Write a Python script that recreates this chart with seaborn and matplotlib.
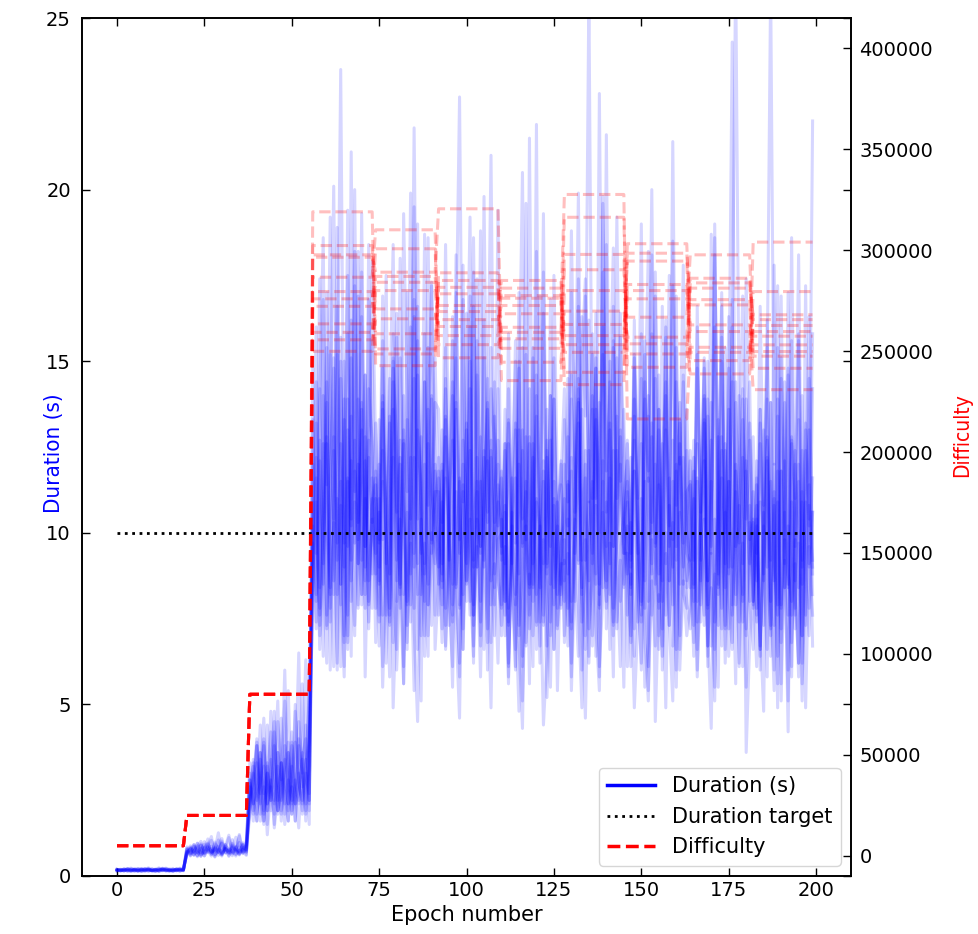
import numpy as np
import pandas as pd
import matplotlib
matplotlib.use('Agg')
import matplotlib.pyplot as plt
from matplotlib.lines import Line2D
import seaborn as sns

# Epoch layout: difficulty is retargeted after 20 epochs, then every 18
n_epochs = 200
seg_len = [20] + [18] * 10
duration_target = 10

# Difficulty level of each segment, one list per simulation run
diff_run00 = [5000, 20000, 80000, 319000, 242800, 281600, 256100, 297900, 248600, 286100, 257400]
diff_run01 = [5000, 20000, 80000, 302300, 270900, 257700, 281200, 239500, 303200, 259700, 230900]
diff_run02 = [5000, 20000, 80000, 297700, 289100, 320500, 244500, 269800, 256900, 281200, 268000]
diff_run03 = [5000, 20000, 80000, 296500, 258600, 265600, 272600, 327600, 216400, 251900, 259700]
diff_run04 = [5000, 20000, 80000, 286600, 310100, 246700, 261800, 249400, 283000, 245300, 304000]
diff_run05 = [5000, 20000, 80000, 279500, 251100, 285000, 235400, 280000, 266800, 297700, 249800]
diff_run06 = [5000, 20000, 80000, 275900, 284100, 272600, 285000, 253200, 298500, 272900, 241500]
diff_run07 = [5000, 20000, 80000, 272200, 300700, 253200, 259300, 316300, 242000, 283800, 265600]
diff_run08 = [5000, 20000, 80000, 263500, 248600, 288800, 276200, 233400, 280000, 263000, 253100]
diff_run09 = [5000, 20000, 80000, 259300, 287000, 269600, 251400, 290300, 253600, 238700, 279500]
diff_run10 = [5000, 20000, 80000, 255600, 266000, 278400, 277500, 257700, 294600, 249400, 262700]
diff_run11 = [5000, 20000, 80000, 249900, 280000, 262200, 268500, 263200, 275900, 275500, 247500]

# Epoch durations (s), one list per run
dur_run00 = [
    0.18, 0.15, 0.21, 0.17, 0.14, 0.19, 0.22, 0.16, 0.18, 0.13, 0.20, 0.17, 0.24, 0.15, 0.18, 0.19, 0.14, 0.21, 0.17, 0.16,
    0.72, 0.65, 0.88, 0.59, 0.77, 0.93, 0.68, 0.81, 0.55, 0.74, 1.02, 0.66, 0.79, 0.71, 0.62, 0.85, 0.97, 0.70,
    2.2, 3.0, 1.6, 3.6, 1.9, 2.6, 4.2, 1.4, 2.4, 3.3, 2.1, 2.8, 1.8, 4.8, 2.7, 2.2, 3.4, 1.5,
    13.3, 9.4, 17.4, 11.5, 7.6, 15.2, 10.4, 18.9, 8.5, 13.9, 6.6, 16.2, 12.1, 9.8, 19.3, 9.0, 14.2, 12.6,
    6.8, 10.6, 5.5, 8.8, 13.2, 4.9, 8.0, 12.0, 6.1, 9.6, 16.0, 7.2, 4.5, 10.0, 8.4, 6.4, 14.0, 7.6,
    11.6, 8.4, 15.4, 7.3, 10.8, 18.1, 9.1, 6.6, 13.0, 9.7, 7.9, 17.4, 9.6, 12.4, 6.0, 11.0, 14.4, 8.6,
    7.8, 12.6, 5.8, 10.2, 8.2, 15.0, 5.1, 9.4, 12.8, 7.0, 10.9, 6.2, 17.6, 8.8, 7.4, 11.5, 5.4, 9.7,
    10.3, 14.5, 8.0, 12.7, 19.9, 9.2, 12.0, 6.4, 15.8, 11.0, 13.8, 8.4, 21.6, 10.0, 7.3, 15.1, 11.4, 9.4,
    9.4, 6.1, 11.8, 7.4, 10.0, 15.6, 5.4, 8.6, 6.7, 13.6, 9.6, 4.9, 10.8, 7.9, 16.9, 6.6, 9.0, 11.2,
    11.4, 8.0, 16.6, 9.2, 13.2, 6.4, 10.4, 19.0, 8.5, 12.4, 7.3, 14.8, 9.7, 5.6, 14.0, 9.1, 17.4, 10.9,
    8.0, 12.1, 6.0, 10.3, 15.4, 7.0, 9.2, 13.4, 5.1, 9.8, 7.6, 18.6, 8.6, 11.5, 6.2, 10.6, 13.0, 8.2,
]
dur_run01 = [
    0.16, 0.19, 0.14, 0.22, 0.17, 0.15, 0.20, 0.18, 0.13, 0.21, 0.16, 0.19, 0.15, 0.23, 0.17, 0.14, 0.18, 0.20, 0.16, 0.19,
    0.81, 0.58, 0.74, 0.96, 0.63, 0.70, 0.87, 1.15, 0.61, 0.78, 0.69, 0.92, 0.57, 0.83, 0.75, 0.64, 0.89, 0.73,
    2.8, 1.8, 3.8, 2.1, 3.2, 1.2, 2.6, 4.5, 1.9, 3.3, 2.4, 1.6, 3.9, 2.7, 2.1, 5.6, 3.0, 2.2,
    8.8, 14.4, 10.6, 6.4, 17.0, 12.2, 8.2, 13.4, 23.5, 10.2, 7.0, 15.1, 11.2, 18.2, 9.2, 12.8, 7.9, 11.0,
    11.6, 7.6, 13.8, 9.0, 5.8, 10.9, 16.4, 8.2, 12.6, 6.8, 10.3, 14.5, 6.6, 9.4, 18.7, 10.6, 7.3, 12.0,
    9.8, 7.2, 13.3, 9.1, 5.5, 11.2, 7.9, 16.8, 8.5, 10.4, 6.2, 14.6, 8.0, 12.2, 8.8, 4.9, 11.0, 12.7,
    9.6, 13.6, 7.4, 11.6, 9.7, 17.0, 6.1, 10.9, 14.2, 8.4, 21.9, 6.7, 12.1, 9.0, 14.0, 10.0, 7.8, 11.4,
    7.0, 10.4, 5.4, 8.8, 13.2, 7.6, 4.6, 9.6, 11.5, 6.4, 8.4, 15.2, 7.2, 9.7, 5.8, 12.4, 8.0, 9.1,
    12.7, 9.0, 16.2, 10.8, 7.9, 14.4, 11.8, 20.0, 9.6, 13.6, 7.2, 11.2, 17.5, 9.8, 15.4, 8.5, 12.2, 10.3,
    8.4, 11.8, 6.6, 10.0, 15.0, 7.8, 9.4, 5.5, 12.8, 10.6, 7.2, 16.3, 9.0, 11.2, 6.1, 10.2, 13.9, 8.0,
    6.6, 10.2, 7.3, 4.8, 12.1, 8.2, 6.0, 13.9, 6.8, 9.2, 5.1, 10.9, 7.6, 15.8, 5.6, 8.8, 11.4, 6.7,
]
dur_run02 = [
    0.19, 0.17, 0.15, 0.20, 0.23, 0.16, 0.18, 0.14, 0.21, 0.19, 0.15, 0.17, 0.20, 0.16, 0.22, 0.18, 0.13, 0.19, 0.21, 0.17,
    0.66, 0.84, 0.71, 0.56, 0.90, 0.76, 1.08, 0.63, 0.79, 0.68, 0.95, 0.72, 0.60, 0.86, 0.77, 1.21, 0.67, 0.82,
    1.9, 2.7, 4.0, 2.2, 1.5, 3.2, 2.4, 1.8, 3.6, 2.8, 5.1, 2.1, 2.6, 1.6, 3.8, 3.0, 1.9, 3.3,
    14.8, 10.0, 7.8, 14.0, 11.4, 19.2, 8.6, 10.9, 15.7, 6.8, 13.0, 10.4, 18.2, 9.1, 12.4, 14.6, 8.0, 11.0,
    9.4, 13.3, 9.8, 17.5, 7.6, 12.2, 8.6, 15.1, 11.0, 6.6, 12.7, 19.5, 8.2, 11.6, 15.8, 7.9, 10.6, 13.8,
    13.6, 10.3, 18.4, 11.4, 8.5, 15.6, 22.7, 10.9, 13.2, 8.0, 16.6, 12.0, 9.4, 19.8, 10.6, 14.2, 12.6, 9.0,
    7.3, 10.8, 6.1, 9.6, 13.0, 6.8, 4.3, 10.2, 8.2, 15.4, 6.6, 9.0, 11.8, 7.8, 5.5, 11.0, 7.2, 9.1,
    9.1, 12.8, 7.2, 10.8, 16.6, 8.4, 12.4, 6.2, 10.0, 14.8, 7.9, 19.8, 9.6, 11.6, 7.4, 13.4, 10.3, 8.5,
    10.2, 6.8, 12.7, 8.8, 6.0, 11.5, 8.0, 15.8, 9.4, 6.6, 10.6, 14.0, 7.3, 9.2, 12.0, 7.0, 14.6, 8.4,
    12.1, 8.5, 15.2, 10.4, 7.3, 13.9, 9.6, 18.6, 10.9, 6.7, 12.6, 8.8, 16.0, 9.8, 6.2, 13.3, 11.0, 9.1,
    10.4, 7.8, 13.6, 8.6, 12.2, 6.4, 17.8, 9.4, 7.2, 14.4, 10.0, 5.8, 12.0, 8.4, 14.0, 7.6, 10.8, 9.0,
]
dur_run03 = [
    0.15, 0.18, 0.20, 0.16, 0.13, 0.19, 0.17, 0.22, 0.15, 0.18, 0.16, 0.21, 0.14, 0.19, 0.17, 0.15, 0.20, 0.16, 0.23, 0.18,
    0.77, 0.62, 0.91, 0.70, 0.58, 0.83, 0.74, 0.66, 0.99, 0.72, 0.61, 0.86, 0.78, 1.06, 0.64, 0.75, 0.69, 0.88,
    3.3, 2.1, 2.6, 4.4, 1.6, 3.0, 2.2, 3.8, 1.8, 2.7, 6.0, 1.9, 3.2, 2.4, 1.4, 3.4, 4.0, 2.1,
    10.8, 16.0, 8.4, 12.6, 7.3, 13.6, 20.1, 9.7, 15.0, 9.0, 11.6, 6.4, 17.2, 10.3, 13.0, 8.2, 16.8, 12.1,
    10.0, 7.4, 12.4, 6.2, 9.6, 15.1, 8.0, 10.4, 5.6, 13.3, 8.8, 11.4, 19.0, 7.0, 9.7, 8.5, 13.9, 6.6,
    8.6, 12.0, 6.7, 10.3, 14.4, 9.2, 5.8, 12.7, 10.6, 7.6, 17.6, 9.0, 11.5, 6.6, 9.8, 15.4, 7.9, 10.8,
    11.8, 8.0, 14.2, 9.4, 6.1, 13.0, 10.4, 19.6, 8.5, 12.2, 7.3, 9.7, 16.4, 9.1, 14.0, 6.6, 10.9, 11.5,
    14.2, 10.9, 18.8, 12.2, 9.1, 16.3, 13.4, 25.8, 11.0, 15.1, 8.5, 17.6, 11.8, 14.0, 18.3, 10.0, 15.7, 12.4,
    6.1, 8.8, 4.9, 7.4, 11.0, 5.5, 6.8, 13.2, 4.5, 8.2, 6.4, 10.0, 7.3, 5.1, 11.8, 6.0, 8.6, 7.0,
    7.9, 11.0, 6.0, 9.2, 13.3, 7.2, 4.3, 10.4, 8.4, 15.7, 6.6, 11.5, 7.6, 9.6, 10.2, 13.9, 3.6, 6.8,
    8.5, 11.6, 6.7, 10.6, 5.8, 13.8, 9.0, 7.6, 16.9, 9.8, 4.2, 12.6, 8.2, 6.2, 10.9, 7.3, 14.5, 9.2,
]
dur_run04 = [
    0.17, 0.14, 0.19, 0.21, 0.16, 0.18, 0.15, 0.20, 0.17, 0.24, 0.16, 0.13, 0.19, 0.18, 0.15, 0.21, 0.17, 0.19, 0.14, 0.18,
    0.69, 0.79, 0.60, 0.85, 1.01, 0.67, 0.73, 0.58, 0.94, 0.80, 0.65, 0.76, 1.12, 0.70, 0.84, 0.63, 0.78, 0.91,
    2.4, 3.4, 1.8, 2.8, 4.6, 2.1, 2.6, 1.5, 3.6, 2.2, 3.2, 3.9, 1.9, 2.7, 6.5, 1.8, 3.0, 2.4,
    12.0, 8.2, 13.9, 18.6, 7.2, 11.0, 14.8, 9.2, 11.5, 6.1, 15.8, 10.2, 12.7, 7.9, 17.6, 9.6, 12.2, 10.3,
    13.2, 9.8, 16.9, 11.2, 8.8, 15.0, 12.6, 7.8, 19.3, 13.6, 10.4, 21.8, 11.6, 9.4, 14.4, 10.8, 17.2, 12.1,
    7.6, 10.9, 6.6, 9.0, 12.7, 7.2, 4.6, 11.4, 8.6, 16.0, 6.7, 9.6, 5.8, 10.6, 13.8, 7.9, 9.1, 6.2,
    10.4, 7.0, 12.6, 8.6, 6.0, 14.8, 9.6, 11.2, 7.6, 11.0, 13.4, 9.1, 4.4, 6.4, 16.8, 8.4, 10.2, 7.8,
    9.2, 6.7, 11.8, 8.0, 14.5, 6.0, 9.8, 8.6, 13.6, 7.3, 5.4, 10.8, 18.4, 8.2, 12.4, 7.2, 9.6, 10.4,
    11.5, 8.2, 15.1, 9.8, 7.4, 13.3, 18.2, 9.1, 12.0, 7.0, 10.9, 16.2, 8.6, 12.7, 6.6, 11.2, 14.4, 9.4,
    9.1, 6.4, 11.6, 7.4, 10.0, 15.0, 6.7, 8.8, 5.5, 12.8, 9.6, 7.2, 16.8, 8.2, 10.8, 6.1, 12.1, 8.0,
    12.8, 9.4, 16.6, 10.8, 14.6, 26.0, 12.0, 17.2, 10.0, 13.8, 8.8, 8.0, 11.2, 15.6, 9.2, 13.2, 10.4, 15.8,
]
dur_run05 = [
    0.20, 0.16, 0.18, 0.15, 0.19, 0.22, 0.17, 0.14, 0.18, 0.20, 0.16, 0.19, 0.13, 0.17, 0.21, 0.18, 0.16, 0.15, 0.20, 0.17,
    0.74, 0.88, 0.63, 0.71, 0.57, 0.82, 0.96, 0.69, 0.75, 1.26, 0.66, 0.80, 0.72, 0.59, 0.87, 0.68, 0.93, 0.76,
    2.1, 2.8, 3.8, 1.6, 2.6, 1.9, 4.8, 3.0, 2.2, 3.3, 1.5, 2.7, 4.2, 2.1, 2.4, 3.4, 1.8, 5.8,
    9.6, 13.2, 7.6, 16.8, 10.4, 8.4, 12.4, 6.2, 14.5, 9.7, 19.4, 8.0, 11.8, 9.1, 13.8, 5.8, 10.9, 15.6,
    7.8, 11.0, 6.1, 9.4, 13.4, 6.8, 15.7, 8.5, 5.6, 10.6, 7.4, 12.2, 8.8, 5.1, 14.4, 7.9, 10.0, 9.1,
    12.2, 8.8, 14.2, 9.8, 7.4, 17.0, 10.9, 8.2, 13.3, 19.2, 9.2, 11.5, 7.0, 15.1, 10.3, 12.7, 8.4, 12.0,
    7.0, 9.6, 5.6, 10.6, 7.9, 4.8, 12.4, 6.7, 8.8, 6.1, 14.0, 7.4, 9.8, 5.2, 8.5, 15.1, 7.3, 9.2,
    11.0, 7.8, 13.9, 9.4, 17.4, 10.2, 7.0, 12.6, 15.2, 8.8, 22.8, 10.6, 8.0, 13.0, 9.6, 11.8, 16.4, 9.7,
    8.8, 12.2, 7.2, 10.4, 14.5, 8.4, 6.1, 12.8, 9.7, 7.8, 16.6, 9.1, 11.6, 6.7, 10.9, 13.8, 8.5, 10.3,
    12.4, 9.2, 16.0, 10.6, 14.0, 7.9, 18.7, 11.4, 8.8, 15.0, 10.0, 13.3, 24.3, 9.6, 12.0, 16.9, 10.4, 12.7,
    7.9, 10.8, 6.6, 13.0, 8.8, 7.2, 11.2, 4.9, 15.1, 8.4, 10.2, 6.1, 12.4, 9.2, 7.0, 17.2, 9.0, 10.6,
]
dur_run06 = [
    0.16, 0.20, 0.17, 0.15, 0.18, 0.13, 0.21, 0.19, 0.16, 0.17, 0.22, 0.15, 0.18, 0.20, 0.14, 0.17, 0.19, 0.16, 0.18, 0.21,
    0.63, 0.77, 0.92, 0.68, 0.81, 0.59, 0.74, 1.04, 0.70, 0.86, 0.62, 0.79, 0.67, 0.95, 0.73, 1.17, 0.65, 0.80,
    3.0, 1.9, 2.4, 3.6, 1.8, 4.4, 2.6, 2.1, 3.2, 1.6, 3.8, 2.7, 2.2, 5.0, 2.8, 1.9, 3.3, 3.9,
    10.9, 8.0, 14.2, 9.1, 12.6, 6.0, 10.2, 16.6, 8.5, 13.3, 7.6, 21.1, 9.7, 12.0, 8.2, 14.6, 7.2, 10.8,
    11.4, 8.6, 14.8, 10.0, 7.3, 13.6, 9.2, 18.0, 10.9, 8.0, 12.2, 9.0, 15.6, 10.3, 6.4, 12.8, 17.3, 9.7,
    9.0, 13.0, 7.8, 11.0, 16.3, 8.5, 11.6, 6.6, 10.3, 14.2, 7.3, 9.7, 18.8, 9.2, 12.1, 6.8, 13.4, 10.2,
    11.6, 9.1, 15.8, 10.3, 7.9, 13.8, 20.5, 9.8, 12.6, 8.5, 14.6, 10.8, 7.3, 12.7, 9.6, 17.5, 11.2, 8.8,
    8.0, 11.4, 6.2, 10.0, 13.9, 7.4, 9.1, 16.2, 6.7, 10.8, 5.8, 12.1, 8.6, 15.0, 7.8, 9.7, 13.0, 8.4,
    12.6, 9.4, 15.2, 11.0, 19.0, 8.6, 13.4, 10.3, 16.9, 8.0, 12.1, 14.4, 9.6, 21.4, 10.8, 13.2, 9.0, 12.4,
    9.2, 12.7, 7.4, 10.9, 15.1, 8.6, 11.5, 6.6, 10.4, 17.0, 8.4, 13.6, 7.9, 11.8, 9.7, 14.2, 7.0, 10.8,
    8.6, 6.1, 10.9, 7.3, 12.8, 8.2, 5.4, 11.8, 7.8, 10.0, 14.8, 6.8, 9.1, 5.8, 11.2, 4.9, 9.6, 7.6,
]
dur_run07 = [
    0.18, 0.15, 0.17, 0.20, 0.16, 0.19, 0.14, 0.18, 0.21, 0.15, 0.17, 0.19, 0.16, 0.22, 0.18, 0.15, 0.17, 0.20, 0.19, 0.16,
    0.85, 0.70, 0.61, 0.78, 0.94, 0.66, 0.83, 0.72, 0.57, 0.89, 1.09, 0.68, 0.76, 0.64, 0.81, 0.98, 0.71, 0.60,
    2.6, 1.6, 3.3, 2.4, 3.9, 1.9, 2.8, 2.2, 4.5, 3.2, 1.8, 3.6, 2.6, 2.1, 4.0, 3.0, 6.3, 2.2,
    9.0, 12.2, 7.3, 10.6, 15.4, 8.2, 12.8, 10.2, 6.1, 11.8, 17.5, 8.6, 10.9, 7.8, 13.6, 9.6, 11.4, 17.9,
    12.4, 9.7, 15.6, 9.1, 13.3, 18.4, 10.8, 8.4, 14.0, 11.6, 7.9, 16.3, 10.4, 12.8, 8.8, 18.6, 11.2, 10.2,
    9.6, 6.8, 11.6, 8.2, 6.1, 13.6, 7.8, 10.3, 16.4, 8.6, 6.4, 11.2, 7.4, 10.8, 14.5, 9.1, 7.0, 9.8,
    10.0, 7.6, 13.2, 8.8, 6.6, 12.0, 9.7, 15.2, 7.2, 9.4, 18.2, 8.4, 11.5, 6.7, 10.6, 13.9, 9.0, 7.9,
    13.3, 10.2, 17.0, 12.0, 9.2, 15.1, 17.4, 10.9, 14.0, 8.5, 12.6, 16.0, 10.6, 14.4, 9.6, 19.2, 11.5, 13.6,
    7.6, 10.3, 6.4, 9.0, 12.6, 7.0, 5.1, 9.8, 8.5, 14.6, 6.0, 9.4, 7.3, 11.5, 5.5, 10.6, 8.2, 7.8,
    11.5, 8.4, 14.8, 10.2, 7.6, 13.4, 9.4, 18.1, 10.8, 7.2, 12.4, 9.0, 15.6, 26.4, 13.0, 8.0, 11.8, 9.8,
    10.3, 7.4, 13.2, 9.2, 6.6, 11.5, 8.6, 15.4, 7.9, 10.6, 6.0, 12.7, 9.6, 12.0, 7.0, 11.0, 16.3, 8.8,
]
dur_run08 = [
    0.17, 0.19, 0.15, 0.18, 0.21, 0.16, 0.14, 0.19, 0.17, 0.20, 0.15, 0.18, 0.22, 0.16, 0.19, 0.17, 0.14, 0.20, 0.18, 0.15,
    0.71, 0.60, 0.86, 0.75, 0.67, 1.00, 0.79, 0.63, 0.84, 0.70, 0.58, 0.91, 0.74, 0.82, 1.13, 0.66, 0.77, 0.69,
    1.8, 3.2, 2.2, 2.7, 4.0, 1.5, 3.4, 2.4, 1.9, 4.6, 2.8, 2.1, 3.8, 1.6, 3.0, 2.6, 4.4, 1.9,
    10.2, 7.4, 12.7, 8.8, 6.2, 11.4, 15.1, 8.2, 10.8, 7.0, 13.9, 9.2, 20.0, 9.8, 7.9, 12.1, 8.6, 10.4,
    9.2, 6.7, 11.5, 7.6, 10.3, 14.4, 6.0, 8.6, 12.7, 7.3, 9.7, 5.4, 16.6, 8.2, 12.0, 7.0, 9.4, 11.0,
    11.8, 9.1, 14.5, 10.4, 7.9, 13.8, 9.8, 17.8, 8.6, 12.4, 7.6, 15.6, 11.0, 9.0, 13.2, 21.0, 10.0, 11.4,
    9.2, 12.4, 7.3, 11.0, 15.0, 8.6, 6.4, 12.8, 10.3, 8.0, 11.6, 16.9, 9.1, 13.6, 7.0, 10.8, 8.2, 12.0,
    6.8, 9.4, 5.8, 10.4, 7.8, 4.9, 11.6, 7.2, 8.8, 13.6, 6.1, 8.2, 10.9, 6.6, 15.6, 7.4, 9.2, 5.5,
    11.2, 8.5, 13.9, 9.8, 7.6, 15.2, 10.6, 8.8, 17.6, 11.8, 8.0, 13.0, 10.2, 18.5, 9.2, 12.6, 9.7, 13.6,
    10.0, 7.3, 12.6, 8.6, 13.9, 6.7, 10.6, 16.0, 8.2, 11.6, 6.2, 9.7, 14.4, 7.9, 9.1, 12.2, 7.2, 10.3,
    8.0, 11.4, 6.4, 10.2, 9.0, 13.8, 7.3, 10.9, 5.6, 12.1, 8.5, 15.6, 7.8, 9.7, 5.1, 13.0, 9.1, 11.6,
]
dur_run09 = [
    0.19, 0.16, 0.18, 0.14, 0.20, 0.17, 0.15, 0.21, 0.18, 0.16, 0.19, 0.13, 0.17, 0.20, 0.16, 0.18, 0.22, 0.15, 0.17, 0.19,
    0.68, 0.82, 0.73, 0.59, 0.90, 0.64, 0.77, 0.87, 0.62, 0.72, 0.97, 0.80, 0.65, 0.75, 0.58, 0.84, 0.71, 1.03,
    2.7, 2.2, 1.6, 3.4, 2.4, 3.0, 1.9, 4.2, 2.6, 1.8, 3.2, 5.4, 2.1, 2.8, 2.2, 3.6, 1.6, 3.3,
    8.4, 11.6, 7.0, 10.3, 13.8, 9.0, 6.1, 11.0, 7.9, 15.0, 9.6, 12.1, 7.3, 10.0, 16.3, 8.6, 12.7, 7.8,
    11.8, 9.0, 14.0, 10.2, 7.8, 15.8, 10.9, 8.5, 13.0, 11.2, 19.9, 9.4, 14.6, 10.4, 8.0, 12.6, 9.8, 15.1,
    10.6, 7.9, 12.8, 9.2, 15.6, 8.4, 11.5, 7.2, 10.3, 16.9, 9.0, 12.2, 6.7, 11.0, 13.6, 8.6, 10.0, 19.4,
    7.9, 10.6, 6.2, 9.6, 13.2, 7.3, 9.0, 11.5, 5.6, 15.1, 8.2, 10.2, 7.6, 12.4, 9.2, 6.6, 10.9, 8.5,
    12.0, 8.8, 14.6, 10.6, 13.8, 8.2, 16.9, 11.4, 9.4, 13.3, 10.0, 19.6, 12.2, 9.1, 15.4, 11.0, 12.8, 10.3,
    9.6, 7.0, 11.8, 8.4, 6.2, 10.9, 14.0, 7.6, 9.0, 11.4, 6.7, 16.0, 8.6, 10.3, 6.0, 12.2, 9.4, 8.0,
    7.2, 10.0, 5.8, 9.0, 12.1, 6.7, 8.4, 5.1, 13.3, 7.8, 10.6, 6.4, 8.6, 14.4, 7.4, 9.7, 5.5, 9.1,
    11.2, 8.6, 13.6, 10.0, 16.2, 9.2, 12.0, 7.9, 14.5, 10.6, 8.4, 12.8, 11.0, 18.1, 9.0, 12.4, 10.2, 22.0,
]
dur_run10 = [
    0.15, 0.18, 0.16, 0.20, 0.17, 0.19, 0.15, 0.17, 0.22, 0.18, 0.14, 0.16, 0.19, 0.21, 0.17, 0.15, 0.18, 0.16, 0.20, 0.18,
    0.79, 0.66, 0.73, 0.88, 0.61, 0.76, 0.93, 0.69, 0.81, 0.60, 0.74, 0.85, 1.19, 0.67, 0.78, 0.71, 0.92, 0.63,
    2.2, 3.3, 2.6, 1.8, 3.8, 2.1, 2.8, 4.8, 1.9, 2.4, 3.4, 1.6, 3.0, 3.9, 2.7, 2.1, 3.2, 5.2,
    9.7, 7.2, 12.1, 8.5, 14.4, 7.8, 10.3, 6.0, 12.6, 9.1, 6.8, 13.4, 10.0, 16.9, 8.2, 11.0, 7.4, 11.6,
    8.8, 12.0, 7.6, 10.8, 14.5, 8.4, 6.6, 12.7, 10.2, 7.9, 11.4, 16.8, 9.1, 10.4, 7.0, 13.6, 9.4, 11.2,
    11.2, 8.6, 13.4, 10.0, 7.6, 15.1, 9.4, 12.0, 8.0, 10.8, 18.6, 9.0, 12.8, 9.7, 7.2, 12.4, 10.3, 14.2,
    9.4, 12.6, 7.8, 10.6, 15.6, 8.8, 13.0, 6.8, 21.5, 9.1, 11.0, 10.2, 7.4, 12.2, 8.5, 13.9, 9.8, 8.2,
    9.8, 7.3, 12.2, 8.6, 6.4, 13.6, 9.2, 10.9, 7.0, 14.8, 8.2, 11.5, 7.8, 10.3, 16.6, 8.8, 6.1, 11.0,
    12.1, 9.2, 14.8, 10.4, 8.0, 13.9, 11.5, 18.1, 9.7, 13.0, 8.6, 15.7, 10.9, 9.0, 14.4, 12.0, 17.8, 10.0,
    9.2, 6.8, 11.5, 7.9, 10.4, 6.1, 13.8, 8.6, 7.3, 11.0, 15.4, 8.2, 6.6, 12.0, 9.1, 7.4, 10.0, 13.2,
    10.2, 7.6, 12.6, 8.8, 13.9, 8.0, 10.8, 6.4, 11.8, 9.1, 17.0, 9.8, 7.2, 13.3, 8.5, 10.9, 7.8, 14.2,
]
dur_run11 = [
    0.18, 0.16, 0.20, 0.17, 0.15, 0.19, 0.18, 0.13, 0.17, 0.21, 0.16, 0.18, 0.15, 0.19, 0.23, 0.17, 0.16, 0.18, 0.14, 0.20,
    0.64, 0.80, 0.69, 0.95, 0.73, 0.58, 0.86, 0.70, 0.77, 1.05, 0.63, 0.81, 0.68, 0.90, 0.74, 0.61, 0.83, 0.76,
    2.8, 2.1, 3.9, 2.6, 1.6, 3.3, 2.2, 3.0, 5.1, 1.9, 2.7, 3.6, 1.8, 2.4, 4.5, 3.2, 2.1, 3.8,
    8.0, 10.9, 6.6, 9.2, 12.8, 7.4, 10.2, 15.2, 8.4, 5.8, 11.5, 9.0, 7.0, 13.9, 9.7, 7.8, 18.4, 8.8,
    11.0, 8.5, 13.6, 9.6, 7.4, 14.8, 10.6, 12.2, 8.2, 17.0, 10.2, 7.8, 13.0, 11.4, 9.1, 15.4, 9.7, 11.8,
    8.5, 11.8, 7.3, 10.2, 14.0, 8.2, 6.2, 11.2, 9.1, 15.0, 7.6, 10.4, 9.6, 16.2, 6.8, 12.2, 8.8, 10.9,
    10.4, 8.0, 13.3, 9.1, 11.6, 7.0, 15.4, 9.7, 8.4, 12.6, 7.4, 10.8, 19.3, 8.8, 12.7, 7.9, 10.3, 12.1,
    8.6, 11.5, 7.4, 10.3, 14.2, 8.2, 6.6, 12.4, 9.1, 16.4, 7.8, 10.6, 8.4, 13.2, 7.0, 9.8, 12.0, 9.4,
    10.9, 8.4, 13.4, 9.4, 15.8, 7.8, 11.6, 10.0, 14.5, 8.8, 12.6, 7.6, 10.6, 17.2, 9.6, 13.3, 10.4, 8.6,
    9.4, 12.2, 8.0, 10.6, 14.8, 8.6, 12.7, 7.4, 11.0, 16.6, 9.1, 11.5, 6.8, 13.8, 10.2, 8.2, 12.0, 14.4,
    7.8, 10.4, 6.6, 9.1, 12.7, 7.3, 11.0, 5.6, 11.8, 8.4, 14.6, 7.6, 9.8, 6.2, 12.4, 8.8, 7.0, 10.6,
]

diff_runs = [diff_run00, diff_run01, diff_run02, diff_run03, diff_run04, diff_run05,
             diff_run06, diff_run07, diff_run08, diff_run09, diff_run10, diff_run11]
dur_runs = [dur_run00, dur_run01, dur_run02, dur_run03, dur_run04, dur_run05,
            dur_run06, dur_run07, dur_run08, dur_run09, dur_run10, dur_run11]
assert all(len(d) == n_epochs for d in dur_runs), [len(d) for d in dur_runs]

epochs = np.arange(n_epochs)
frames = []
for i, (lv, dur) in enumerate(zip(diff_runs, dur_runs)):
    frames.append(pd.DataFrame({
        'epoch': epochs,
        'run': i,
        'duration': dur,
        'difficulty': np.repeat(lv, seg_len),
    }))
df = pd.concat(frames, ignore_index=True)

plt.rcParams['font.family'] = ['DejaVu Sans']

fig = plt.figure(figsize=(9.79, 9.34), dpi=100)
ax = fig.add_axes([0.0838, 0.0621, 0.7855, 0.9186])

# Durations of every run
sns.lineplot(data=df, x='epoch', y='duration', units='run', estimator=None,
             color='b', alpha=0.16, lw=2.2, ax=ax, legend=False)
# Target duration
sns.lineplot(x=epochs, y=np.full(n_epochs, duration_target), color='k',
             linestyle=':', lw=2, ax=ax)

ax2 = ax.twinx()
sns.lineplot(data=df, x='epoch', y='difficulty', units='run', estimator=None,
             color='r', alpha=0.25, linestyle='--', lw=2.2, ax=ax2, legend=False)

ax.set_xlim(-10, 210)
ax.set_ylim(0, 25)
ax2.set_ylim(-10000, 415000)
ax.set_xticks(range(0, 201, 25))
ax.set_yticks(range(0, 26, 5))
ax2.set_yticks(range(0, 400001, 50000))

ax.tick_params(direction='in', top=True, right=True, length=6, width=1, labelsize=14)
ax.tick_params(axis='y', pad=8)
ax2.tick_params(direction='in', length=6, width=1, labelsize=14, pad=6)
for a in (ax, ax2):
    for s in a.spines.values():
        s.set_linewidth(1.2)

ax.set_xlabel('Epoch number', fontsize=15)
ax.set_ylabel('Duration (s)', color='b', fontsize=16, fontstretch='condensed')
ax2.set_ylabel('Difficulty', color='r', fontsize=15, fontstretch='condensed')
ax.yaxis.set_label_coords(-0.024, 0.493)
ax2.yaxis.set_label_coords(1.131, 0.514)

handles = [
    Line2D([], [], color='b', lw=2.5),
    Line2D([], [], color='k', lw=2, linestyle=':'),
    Line2D([], [], color='r', lw=2.5, linestyle='--'),
]
ax2.legend(handles, ['Duration (s)', 'Duration target', 'Difficulty'],
           loc='lower right', fontsize=15, handlelength=2.3, fancybox=True)

fig.savefig('out.png', dpi=100)
